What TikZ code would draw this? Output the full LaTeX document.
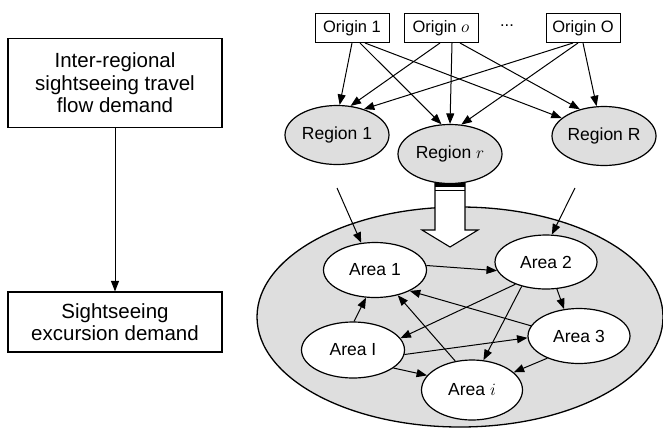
\documentclass[tikz,border=0pt]{standalone}
\usepackage{fontspec}
\setmainfont{Liberation Sans}
\usetikzlibrary{arrows.meta,shapes.geometric}
\begin{document}
\begin{tikzpicture}[x=1pt,y=-1pt,
  arr/.style={-{Triangle[length=10.5pt,width=8pt]}, line width=1pt},
  lbox/.style={draw, line width=1.1pt, minimum width=214pt, align=center, font=\fontsize{20.5}{22.5}\selectfont, inner sep=0pt},
  obox/.style={draw, line width=1pt, minimum width=74pt, minimum height=29pt, inner sep=0pt, font=\fontsize{16.5}{18}\selectfont},
  reg/.style={ellipse, draw, line width=1.2pt, fill=black!13, minimum width=104pt, minimum height=59pt, inner sep=0pt, font=\fontsize{17.5}{19}\selectfont},
  area/.style={ellipse, draw, line width=1.2pt, fill=white, minimum width=103pt, minimum height=55pt, inner sep=0pt, font=\fontsize{17.5}{19}\selectfont},
]
\useasboundingbox (0,0) rectangle (663,429);

% left column
\node[lbox, minimum height=89pt] (b1) at (115,83) {Inter-regional\\sightseeing travel\\flow demand};
\node[lbox, minimum height=60pt] (b2) at (115,322) {Sightseeing\\excursion demand};
\draw[arr] (b1.south) -- (b2.north);

% big region ellipse
\node[ellipse, draw, line width=1.3pt, fill=black!13, minimum width=406pt, minimum height=220pt] (big) at (460,317) {};

% block arrow
\draw[line width=1.1pt, fill=white] (435,183) -- (435,230) -- (422,230) -- (450,247) -- (478,230) -- (465,230) -- (465,183);
\fill (435,181) rectangle (465,187);
\draw[line width=1.4pt] (435,190.5) -- (465,190.5);

% origins
\node[obox] (o1) at (352,28) {Origin 1};
\node[obox] (oo) at (441,28) {Origin $o$};
\node[font=\fontsize{16.5}{18}\selectfont] (dots) at (507,26) {...};
\node[obox] (oO) at (583,28) {Origin O};

% regions
\node[reg] (r1) at (337,135) {Region 1};
\node[reg] (rr) at (450,154) {Region $r$};
\node[reg] (rR) at (604,136) {Region R};

\draw[arr] (o1.south) -- (r1.85);
\draw[arr] ([xshift=8pt]o1.south) -- (rr.106);
\draw[arr] ([xshift=13pt]o1.south) -- (rR.157);
\draw[arr] ([xshift=-1pt]oo.south) -- (r1.65);
\draw[arr] ([xshift=11pt]oo.south) -- (rr.90);
\draw[arr] ([xshift=19pt]oo.south) -- (rR.132);
\draw[arr] ([xshift=-10pt]oO.south) -- (r1.44);
\draw[arr] ([xshift=-5pt]oO.south) -- (rr.69);
\draw[arr] (oO.south) -- (rR.104);

% areas
\node[area] (a1) at (375,270) {Area 1};
\node[area, minimum width=102pt, minimum height=54pt] (a2) at (546,262) {Area 2};
\node[area, minimum height=56pt] (aI) at (353,350) {Area I};
\node[area, minimum width=102pt] (a3) at (579,336) {Area 3};
\node[area, minimum width=101pt, minimum height=60pt] (ai) at (472,390) {Area $i$};

\coordinate (inL) at (337,188);
\coordinate (inR) at (575,188);
\draw[arr] (inL) -- (a1.117);
\draw[arr] (inR) -- (a2.78);

\draw[arr] (a1.5) -- (a2.190);
\draw[arr] (a2.-68) -- (a3.119);
\draw[arr] (a2.216) -- (aI.14);
\draw[arr] (a2.225) -- (ai.69);
\draw[arr] (a3.168) -- (a1.-31);
\draw[arr] (ai.120) -- (a1.-48);
\draw[arr] (aI.88) -- (a1.252);
\draw[arr] (aI.-5) -- (a3.182);
\draw[arr] (aI.-24) -- (ai.162);
\draw[arr] (a3.215) -- (ai.23);
\end{tikzpicture}
\end{document}
